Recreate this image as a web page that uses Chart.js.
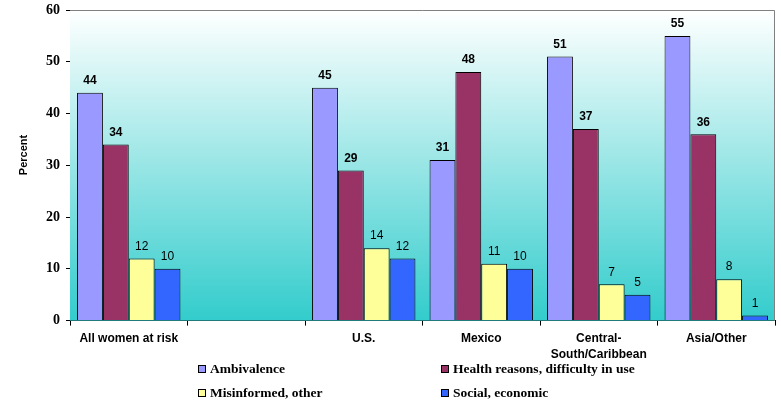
<!DOCTYPE html>
<html>
<head>
<meta charset="utf-8">
<script src="https://cdn.jsdelivr.net/npm/chart.js@4.4.0/dist/chart.umd.min.js"></script>
<style>
    html, body { margin: 0; padding: 0; background: #ffffff; }
    #wrap { position: relative; width: 781px; height: 401px; }
</style>
</head>
<body>
<div id="wrap"><canvas id="reasonsChart" width="781" height="401"></canvas></div>
<script>
// Dados do gráfico
const categories = ['All women at risk', '', 'U.S.', 'Mexico', ['Central-', 'South/Caribbean'], 'Asia/Other'];
const seriesNames = ['Ambivalence', 'Health reasons, difficulty in use', 'Misinformed, other', 'Social, economic'];
const ambivalence = [44, null, 45, 31, 51, 55];
const healthReasons = [34, null, 29, 48, 37, 36];
const misinformed = [12, null, 14, 11, 7, 8];
const socialEconomic = [10, null, 12, 10, 5, 1];
const yTicks = [0, 10, 20, 30, 40, 50, 60];

const seriesColors = ['#9999FF', '#993366', '#FFFF99', '#3366FF'];

// Fundo em degradê dentro da área do gráfico + bordas superior/direita
const backgroundPlugin = {
    id: 'gradientBackground',
    beforeDatasetsDraw(chart) {
        const { ctx, chartArea: a } = chart;
        const grad = ctx.createLinearGradient(0, a.top, 0, a.bottom);
        grad.addColorStop(0, '#FFFFFF');
        grad.addColorStop(1, '#33CCCC');
        ctx.save();
        ctx.fillStyle = grad;
        ctx.fillRect(a.left, a.top, a.right - a.left, a.bottom - a.top);
        ctx.strokeStyle = '#808080';
        ctx.lineWidth = 1;
        ctx.beginPath();
        ctx.moveTo(a.left, a.top + 0.5);
        ctx.lineTo(a.right - 0.5, a.top + 0.5);
        ctx.lineTo(a.right - 0.5, a.bottom);
        ctx.stroke();
        ctx.restore();
    }
};

// Rótulos de valor acima das barras
const valueLabelPlugin = {
    id: 'valueLabels',
    afterDatasetsDraw(chart) {
        const ctx = chart.ctx;
        ctx.save();
        ctx.fillStyle = '#000000';
        ctx.textAlign = 'center';
        ctx.textBaseline = 'bottom';
        chart.data.datasets.forEach((ds, i) => {
            const meta = chart.getDatasetMeta(i);
            ctx.font = (i < 2 ? 'bold ' : '') + '12px "Liberation Sans", Arial, sans-serif';
            meta.data.forEach((bar, j) => {
                const v = ds.data[j];
                if (v === null) return;
                ctx.fillText(String(v), bar.x, bar.y - 6);
            });
        });
        ctx.restore();
    }
};

// Título do eixo Y e legenda em grade 2x2 embaixo
const legendPlugin = {
    id: 'gridLegend',
    afterDraw(chart) {
        const ctx = chart.ctx;
        ctx.save();
        // "Percent" vertical
        ctx.font = 'bold 11px "Liberation Sans", Arial, sans-serif';
        ctx.fillStyle = '#000000';
        ctx.textAlign = 'center';
        ctx.textBaseline = 'middle';
        ctx.translate(24, 155);
        ctx.rotate(-Math.PI / 2);
        ctx.fillText('Percent', 0, 0);
        ctx.restore();

        const spots = [
            { x: 198, y: 369 }, { x: 441, y: 369 },
            { x: 198, y: 393 }, { x: 441, y: 393 }
        ];
        ctx.save();
        ctx.font = 'bold 13.5px "Liberation Serif", "Times New Roman", serif';
        ctx.textBaseline = 'middle';
        ctx.textAlign = 'left';
        seriesNames.forEach((name, i) => {
            const p = spots[i];
            ctx.fillStyle = seriesColors[i];
            ctx.fillRect(p.x, p.y - 4, 8, 8);
            ctx.strokeStyle = '#000000';
            ctx.lineWidth = 1;
            ctx.strokeRect(p.x + 0.5, p.y - 3.5, 7, 7);
            ctx.fillStyle = '#000000';
            ctx.fillText(name, p.x + 12, p.y + 1);
        });
        ctx.restore();
    }
};

function makeDataset(label, data, color) {
    return {
        label: label,
        data: data,
        backgroundColor: color,
        borderColor: '#000000',
        borderWidth: 1,
        categoryPercentage: 0.88,
        barPercentage: 1.0
    };
}

function renderChart() {
    const ctx = document.getElementById('reasonsChart').getContext('2d');
    new Chart(ctx, {
        type: 'bar',
        data: {
            labels: categories,
            datasets: [
                makeDataset(seriesNames[0], ambivalence, seriesColors[0]),
                makeDataset(seriesNames[1], healthReasons, seriesColors[1]),
                makeDataset(seriesNames[2], misinformed, seriesColors[2]),
                makeDataset(seriesNames[3], socialEconomic, seriesColors[3])
            ]
        },
        options: {
            responsive: false,
            animation: false,
            layout: { padding: { top: 10, right: 6, left: 0, bottom: 33 } },
            plugins: { legend: { display: false }, tooltip: { enabled: false } },
            scales: {
                x: {
                    grid: { offset: true, drawOnChartArea: false, color: '#000000', tickLength: 5 },
                    border: { color: '#000000' },
                    ticks: {
                        color: '#000000',
                        maxRotation: 0,
                        autoSkip: false,
                        padding: 5,
                        font: { family: '"Liberation Sans", Arial, sans-serif', size: 12, weight: 'bold', lineHeight: 1.35 }
                    }
                },
                y: {
                    min: 0,
                    max: 60,
                    afterFit(scale) {
                        scale.width = 70;
                        scale.paddingTop = 0;
                        scale.paddingBottom = 0;
                    },
                    afterBuildTicks(scale) { scale.ticks = yTicks.map(v => ({ value: v })); },
                    grid: { drawOnChartArea: false, color: '#000000', tickLength: 4 },
                    border: { color: '#000000' },
                    ticks: {
                        color: '#000000',
                        padding: 6,
                        font: { family: '"Liberation Serif", "Times New Roman", serif', size: 14, weight: 'bold' }
                    }
                }
            }
        },
        plugins: [backgroundPlugin, valueLabelPlugin, legendPlugin]
    });
}

document.addEventListener('DOMContentLoaded', renderChart);
</script>
</body>
</html>
